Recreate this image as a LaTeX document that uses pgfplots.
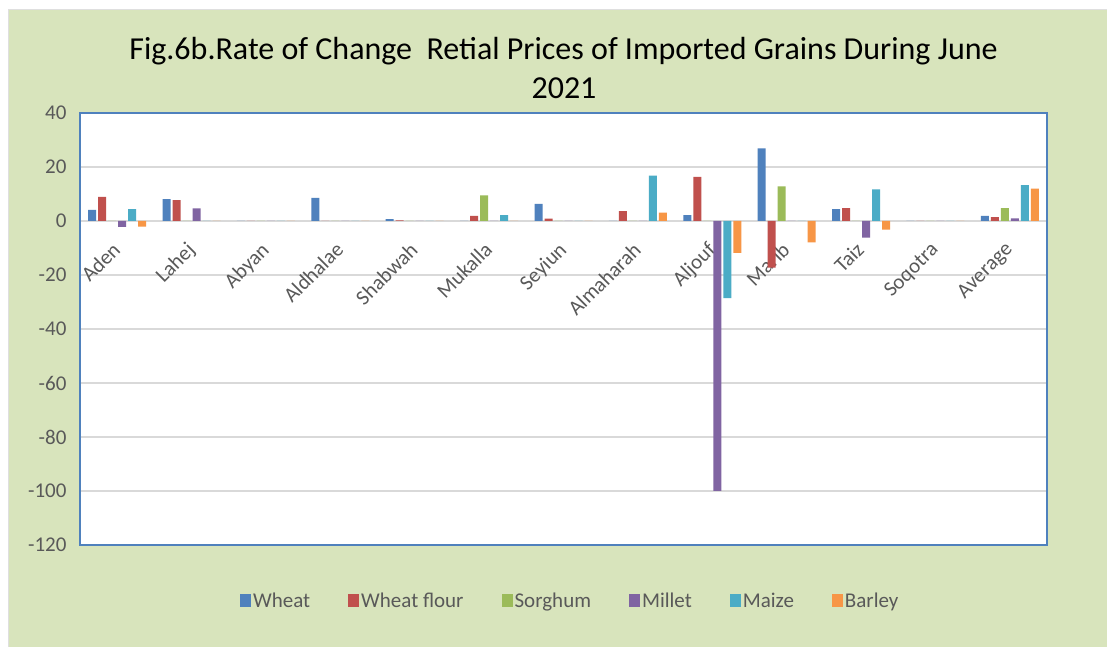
\documentclass[border=0pt]{standalone}
\usepackage{pgfplots}
\pgfplotsset{compat=1.18}
\usepackage{fontspec}
\setmainfont{Carlito}
\definecolor{bgg}{HTML}{D8E4BC}
\definecolor{cWheat}{HTML}{4F81BD}
\definecolor{cFlour}{HTML}{C0504D}
\definecolor{cSorg}{HTML}{9BBB59}
\definecolor{cMillet}{HTML}{8064A2}
\definecolor{cMaize}{HTML}{4BACC6}
\definecolor{cBarley}{HTML}{F79646}
\definecolor{txtg}{HTML}{595959}
\definecolor{gridg}{HTML}{D9D9D9}
\begin{document}
\begin{tikzpicture}[x=1pt,y=1pt]
\path[use as bounding box] (0,0) rectangle (1107,647);
\fill[bgg] (8,0) rectangle (1107,638);
\draw[gray!25, line width=0.8pt] (8,0) -- (8,638) -- (1107,638);
\node[anchor=base, font=\fontsize{32}{38}\selectfont] at (563.5,587.7) {Fig.6b.Rate of Change\ \ Retial Prices of Imported Grains During June};
\node[anchor=base, font=\fontsize{32}{38}\selectfont] at (564,548.7) {2021};
\begin{axis}[
  at={(80pt,102pt)}, anchor=south west,
  scale only axis, width=967pt, height=432pt,
  axis background/.style={fill=white},
  ybar=2pt, bar width=8pt,
  xmin=-0.5, xmax=12.5, ymin=-120, ymax=40,
  ytick={-120,-100,...,40},
  xtick={0,...,12},
  xticklabels={Aden,Lahej,Abyan,Aldhalae,Shabwah,Mukalla,Seyiun,Almaharah,Aljouf,Marib,Taiz,Soqotra,Average},
  axis x line=middle, axis y line=left,
  x axis line style={-, draw=gridg, line width=1.5pt},
  y axis line style={-, draw=cWheat, line width=1.5pt},
  major tick length=0pt,
  ymajorgrids, grid style={draw=gridg, line width=1.5pt},
  yticklabel style={font=\fontsize{21}{24}\selectfont, text=txtg, anchor=east, xshift=-10pt},
  xticklabel style={xshift=-6pt, yshift=-15pt, font=\fontsize{21}{24}\selectfont, text=txtg, rotate=45, anchor=north east},
  /pgf/number format/assume math mode=true,
  legend style={at={(0.507,-0.13)}, anchor=center, legend columns=6, draw=none, fill=none,
    font=\fontsize{21}{24}\selectfont\color{txtg},
    /tikz/every even column/.append style={column sep=36pt}},
  legend image code/.code={\fill[#1] (0pt,-6pt) rectangle (11pt,7pt);},
  clip=false,
  after end axis/.code={\draw[cWheat, line width=1.5pt] (rel axis cs:0,0) rectangle (rel axis cs:1,1);},
]
\addplot[fill=cWheat, draw=none] coordinates {(0,4.1) (1,8.1) (2,0) (3,8.6) (4,0.7) (5,0) (6,6.3) (7,0) (8,2.2) (9,26.9) (10,4.4) (11,0) (12,1.9)};
\addplot[fill=cFlour, draw=none] coordinates {(0,8.9) (1,7.7) (2,0) (3,0) (4,0.25) (5,1.9) (6,0.9) (7,3.7) (8,16.3) (9,-17.3) (10,4.8) (11,0) (12,1.4)};
\addplot[fill=cSorg, draw=none] coordinates {(0,0) (1,0) (2,0) (3,0) (4,0) (5,9.5) (6,0) (7,0) (8,0) (9,12.8) (10,0) (11,0) (12,4.8)};
\addplot[fill=cMillet, draw=none] coordinates {(0,-2.2) (1,4.7) (2,0) (3,0) (4,0) (5,0) (6,0) (7,0) (8,-100) (9,0) (10,-6.2) (11,0) (12,1.0)};
\addplot[fill=cMaize, draw=none] coordinates {(0,4.4) (1,0) (2,0) (3,0) (4,0) (5,2.2) (6,0) (7,16.8) (8,-28.6) (9,0) (10,11.7) (11,0) (12,13.3)};
\addplot[fill=cBarley, draw=none] coordinates {(0,-2.1) (1,0) (2,0) (3,0) (4,0) (5,0) (6,0) (7,3.1) (8,-11.8) (9,-7.9) (10,-3.2) (11,0) (12,12.0)};
\legend{Wheat,Wheat flour,Sorghum,Millet,Maize,Barley}
\end{axis}
\end{tikzpicture}
\end{document}
